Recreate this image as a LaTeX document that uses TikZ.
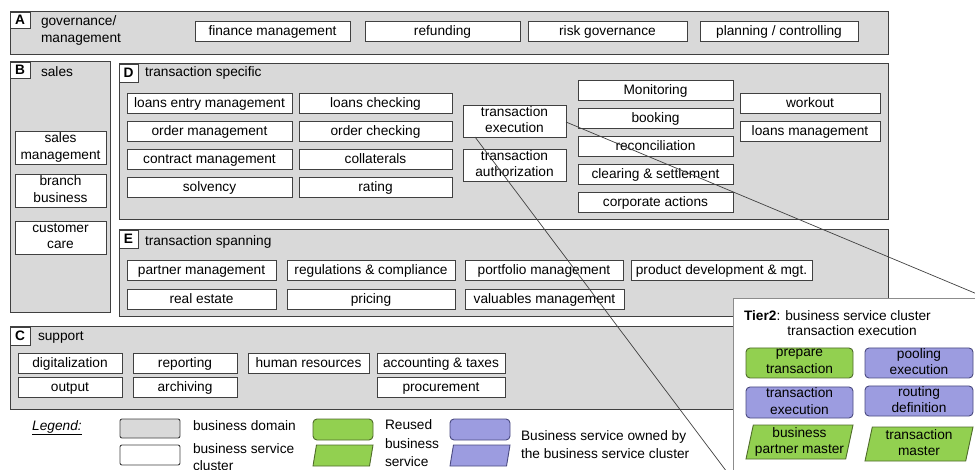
\documentclass[tikz,border=0pt]{standalone}
\usepackage{fontspec}
\setmainfont{Liberation Sans}
\usetikzlibrary{shapes.geometric}

\definecolor{domfill}{HTML}{D9D9D9}
\definecolor{lineclr}{HTML}{404040}
\definecolor{insetclr}{HTML}{8C8C8C}
\definecolor{reusegreen}{HTML}{92D050}
\definecolor{reuseedge}{HTML}{4F6B2A}
\definecolor{ownpurple}{HTML}{9C9CE0}
\definecolor{ownedge}{HTML}{4A4A80}

% fixed height and depth for the first and last line of every text
\newcommand\boxstrut{\rule[-2.9pt]{0pt}{13.9pt}}

\tikzset{
  base/.style={inner sep=0pt, outer sep=0pt, align=center,
    font=\fontsize{13.7}{16.5}\selectfont,
    execute at begin node=\boxstrut, execute at end node=\boxstrut},
  domainbox/.style={base, draw=lineclr, fill=domfill, line width=1pt},
  cluster/.style={base, draw=lineclr, fill=white, line width=0.9pt},
  tagbox/.style={base, draw=lineclr, fill=white, line width=0.9pt,
    font=\fontsize{13.7}{15}\selectfont\bfseries},
  titletext/.style={base, anchor=west, align=left},
  reused/.style={base, draw=reuseedge, fill=reusegreen, line width=0.9pt, rounded corners=4pt},
  owned/.style={base, draw=ownedge, fill=ownpurple, line width=0.9pt, rounded corners=4pt},
  slanted/.style={trapezium, trapezium left angle=76, trapezium right angle=104,
    trapezium stretches body=true, inner xsep=1pt, inner ysep=0pt},
  reusedpara/.style={base, slanted, draw=reuseedge, fill=reusegreen, line width=0.9pt},
  ownedpara/.style={base, slanted, draw=ownedge, fill=ownpurple, line width=0.9pt},
  keybox/.style={base, draw=lineclr, line width=0.9pt, rounded corners=2pt},
  zoomline/.style={draw=lineclr, line width=0.7pt},
  insetbox/.style={base, draw=insetclr, fill=white, line width=1pt},
  legendtext/.style={base, anchor=north west, align=left},
}

% box given by its corners (x1,y1) and (x2,y2), y measured downwards
\newcommand\placebox[7]{%
  \node[#1, minimum width={(#5-#3)*1pt}, minimum height={(#6-#4)*1pt}]
    (#2) at ({(#3+#5)/2},{-(#4+#6)/2}) {#7};}

\begin{document}
\begin{tikzpicture}[x=1pt,y=1pt]
\useasboundingbox (0,0) rectangle (975,-470);
\clip (0,0) rectangle (975,-470);

% business domains
\placebox{domainbox}{domA}{10}{12}{888}{55}{}
\placebox{domainbox}{domB}{10}{62}{110}{313}{}
\placebox{domainbox}{domD}{119}{64}{888}{220}{}
\placebox{domainbox}{domE}{119}{230}{888}{317}{}
\placebox{domainbox}{domC}{10}{327}{888}{409}{}

% domain tags and titles
\placebox{tagbox}{tagA}{10}{12}{30}{28}{A}
\placebox{tagbox}{tagB}{10}{62}{30}{78}{B}
\placebox{tagbox}{tagD}{119}{64}{138}{82}{D}
\placebox{tagbox}{tagE}{119}{230}{138}{248}{E}
\placebox{tagbox}{tagC}{10}{327}{30}{345}{C}
\node[titletext, anchor=north west, font=\fontsize{13.7}{17}\selectfont] (ttlA) at (41,-16) {governance/\\management};
\node[titletext] (ttlB) at (41,-72) {sales};
\node[titletext] (ttlD) at (145,-72) {transaction specific};
\node[titletext] (ttlE) at (145,-241) {transaction spanning};
\node[titletext] (ttlC) at (38,-336) {support};

% A: governance / management
\placebox{cluster}{finance}{195}{21}{350}{41}{finance management}
\placebox{cluster}{refund}{365}{21}{520}{41}{refunding}
\placebox{cluster}{riskgov}{528}{21}{687}{41}{risk governance}
\placebox{cluster}{planning}{700}{21}{858}{41}{planning / controlling}

% B: sales
\placebox{cluster}{salesmgmt}{15}{131}{106}{164}{sales\\management}
\placebox{cluster}{branch}{15}{174}{106}{207}{branch\\business}
\placebox{cluster}{custcare}{15}{221}{106}{254}{customer\\care}

% D: transaction specific
\placebox{cluster}{loanentry}{127}{93}{292}{113}{loans entry management}
\placebox{cluster}{ordermgmt}{127}{121}{292}{141}{order management}
\placebox{cluster}{contract}{127}{149}{292}{169}{contract management}
\placebox{cluster}{solvency}{127}{177}{292}{197}{solvency}
\placebox{cluster}{loancheck}{299}{93}{452}{113}{loans checking}
\placebox{cluster}{ordercheck}{299}{121}{452}{141}{order checking}
\placebox{cluster}{collateral}{299}{149}{452}{169}{collaterals}
\placebox{cluster}{rating}{299}{177}{452}{197}{rating}
\placebox{cluster}{texec}{463}{105}{566}{137}{transaction\\execution}
\placebox{cluster}{tauth}{463}{149}{566}{181}{transaction\\authorization}
\placebox{cluster}{monitor}{578}{80}{733}{100}{Monitoring}
\placebox{cluster}{booking}{578}{108}{733}{128}{booking}
\placebox{cluster}{reconcile}{578}{136}{733}{156}{reconciliation}
\placebox{cluster}{clearing}{578}{164}{733}{184}{clearing \& settlement}
\placebox{cluster}{corpact}{578}{192}{733}{212}{corporate actions}
\placebox{cluster}{workout}{740}{93}{880}{113}{workout}
\placebox{cluster}{loanmgmt}{740}{121}{880}{141}{loans management}

% E: transaction spanning
\placebox{cluster}{partner}{127}{260}{276}{280}{partner management}
\placebox{cluster}{regul}{287}{260}{455}{280}{regulations \& compliance}
\placebox{cluster}{portfolio}{465}{260}{623}{280}{portfolio management}
\placebox{cluster}{proddev}{631}{260}{812}{280}{product development \& mgt.}
\placebox{cluster}{realestate}{127}{289}{276}{309}{real estate}
\placebox{cluster}{pricing}{287}{289}{455}{309}{pricing}
\placebox{cluster}{valuables}{465}{289}{624}{309}{valuables management}

% C: support
\placebox{cluster}{digital}{18}{353}{122}{373}{digitalization}
\placebox{cluster}{output}{18}{377}{122}{397}{output}
\placebox{cluster}{reporting}{133}{353}{237}{373}{reporting}
\placebox{cluster}{archiving}{133}{377}{237}{397}{archiving}
\placebox{cluster}{humanres}{248}{353}{369}{373}{human resources}
\placebox{cluster}{accounting}{377}{353}{505}{373}{accounting \& taxes}
\placebox{cluster}{procure}{377}{377}{505}{397}{procurement}

% detail view of the transaction execution cluster
\placebox{insetbox}{inset}{733}{299}{989}{480}{}
\draw[zoomline] ([xshift=12pt]texec.south west) -- (inset.south west);
\draw[zoomline] ([yshift=-1pt]texec.east) -- (inset.north east);
\node[titletext] (tiertitle) at (744,-316) {\textbf{Tier2}: business service cluster};
\node[base] (tiersub) at (852,-331) {transaction execution};
\placebox{reused}{prepare}{746}{348}{853}{378}{prepare\\transaction}
\placebox{owned}{pooling}{865}{348}{973}{378}{pooling\\execution}
\placebox{owned}{texecsvc}{746}{387}{853}{418}{transaction\\execution}
\placebox{owned}{routing}{865}{386}{973}{416}{routing\\definition}
\placebox{reusedpara}{bpmaster}{746}{425}{853}{459}{business\\partner master}
\placebox{reusedpara}{tmaster}{865}{427}{973}{461}{transaction\\master}

% legend
\node[base, font=\fontsize{13.7}{15}\selectfont\itshape] (legend) at (57,-427) {\underline{Legend:}};
\placebox{keybox, fill=domfill}{keydomain}{120}{419}{180}{438}{}
\placebox{keybox, fill=white}{keycluster}{120}{445}{180}{465}{}
\node[titletext] (txtdomain) at (193,-426) {business domain};
\node[legendtext, font=\fontsize{13.7}{17}\selectfont] (txtcluster) at (193,-444) {business service\\cluster};
\placebox{reused}{keyreused}{313}{419}{373}{440}{}
\placebox{reusedpara}{keyreusedp}{313}{445}{373}{466}{}
\node[legendtext, font=\fontsize{13.7}{18.5}\selectfont] (txtreused) at (385,-420) {Reused\\business\\service};
\placebox{owned}{keyowned}{450}{419}{510}{440}{}
\placebox{ownedpara}{keyownedp}{450}{445}{510}{466}{}
\node[legendtext, font=\fontsize{13.7}{18}\selectfont] (txtowned) at (521,-431) {Business service owned by\\the business service cluster};
\end{tikzpicture}
\end{document}
